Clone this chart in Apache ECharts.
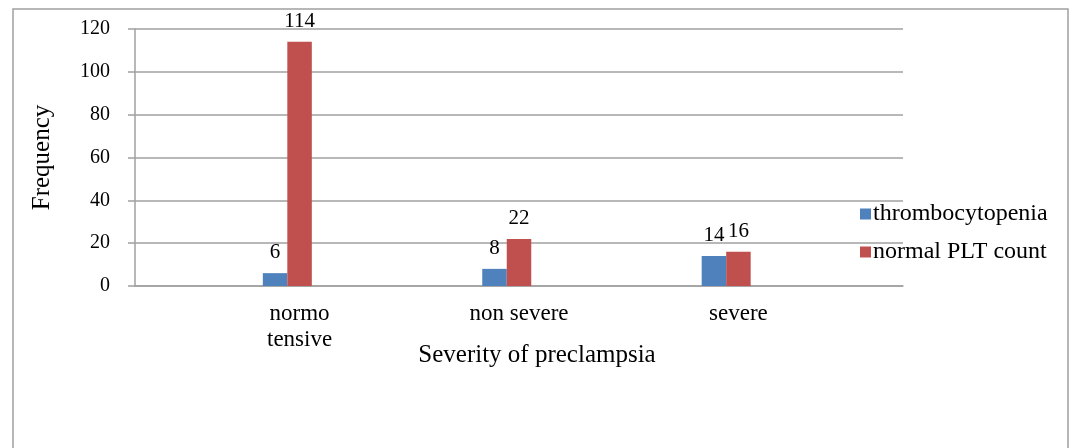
<!DOCTYPE html>
<html>
<head>
<meta charset="utf-8">
<script src="https://cdn.jsdelivr.net/npm/echarts@6/dist/echarts.min.js"></script>
<style>
  html, body { margin: 0; padding: 0; background: #fff; }
  #chart { width: 1071px; height: 448px; }
</style>
</head>
<body>
<div id="chart"></div>
<script>
// categories (empty slots keep the wide spacing of the original chart)
var categories = ['', 'normo\ntensive', '', 'non severe', '', 'severe', ''];
var thrombocytopenia = [null, 6, null, 8, null, 14, null];
var normalPlt = [null, 114, null, 22, null, 16, null];
var yTicks = [0, 20, 40, 60, 80, 100, 120];

var chartDom = document.getElementById('chart');
var myChart = echarts.init(chartDom);
var font = 'Liberation Serif';
var grey = '#a0a0a0';

var option = {
    backgroundColor: '#fff',
    animation: false,
    textStyle: { fontFamily: font },
    graphic: [{
        type: 'rect',
        shape: { x: 13, y: 9, width: 1055, height: 460 },
        style: { fill: 'none', stroke: grey, lineWidth: 1.5 }
    }],
    grid: { left: 135, right: 168, top: 29, bottom: 162 },
    legend: {
        orient: 'vertical',
        left: 855,
        top: 197,
        itemWidth: 11,
        itemHeight: 11,
        itemGap: 14,
        icon: 'rect',
        data: ['thrombocytopenia', 'normal PLT count'],
        textStyle: { fontFamily: font, fontSize: 24, color: '#000', padding: [0, 0, 0, -3] }
    },
    xAxis: {
        type: 'category',
        data: categories,
        name: 'Severity of preclampsia',
        nameLocation: 'middle',
        nameGap: 57,
        nameMoveOverlap: false,
        nameTextStyle: { fontFamily: font, fontSize: 25, color: '#000', padding: [0, 0, 0, 36] },
        axisLine: { lineStyle: { color: grey, width: 1.5 } },
        axisTick: { length: 7, lineStyle: { color: grey, width: 1.5 } },
        axisLabel: { fontFamily: font, fontSize: 23, color: '#000', lineHeight: 26, margin: 15, interval: 0 }
    },
    yAxis: {
        type: 'value',
        min: yTicks[0],
        max: yTicks[yTicks.length - 1],
        interval: 20,
        name: 'Frequency',
        nameLocation: 'middle',
        nameGap: 80,
        nameMoveOverlap: false,
        nameTextStyle: { fontFamily: font, fontSize: 25, color: '#000' },
        axisLine: { show: true, lineStyle: { color: grey, width: 1.5 } },
        axisTick: { show: true, length: 7, lineStyle: { color: grey, width: 1.5 } },
        axisLabel: { fontFamily: font, fontSize: 20, color: '#000', margin: 25 },
        splitLine: { lineStyle: { color: grey, width: 1.5 } }
    },
    series: [
        {
            name: 'thrombocytopenia',
            type: 'bar',
            data: thrombocytopenia,
            barWidth: 24.5,
            barGap: '0%',
            itemStyle: { color: '#4F81BD' },
            label: { show: true, position: 'top', distance: 10, fontFamily: font, fontSize: 21, color: '#000' }
        },
        {
            name: 'normal PLT count',
            type: 'bar',
            data: normalPlt,
            barWidth: 24.5,
            barGap: '0%',
            itemStyle: { color: '#C0504D' },
            label: { show: true, position: 'top', distance: 10, fontFamily: font, fontSize: 21, color: '#000' }
        },
        {
            // empty third series slot, as in the original clustered layout
            name: '',
            type: 'bar',
            data: [],
            barWidth: 24.5,
            barGap: '0%'
        }
    ]
};

option && myChart.setOption(option);
</script>
</body>
</html>
